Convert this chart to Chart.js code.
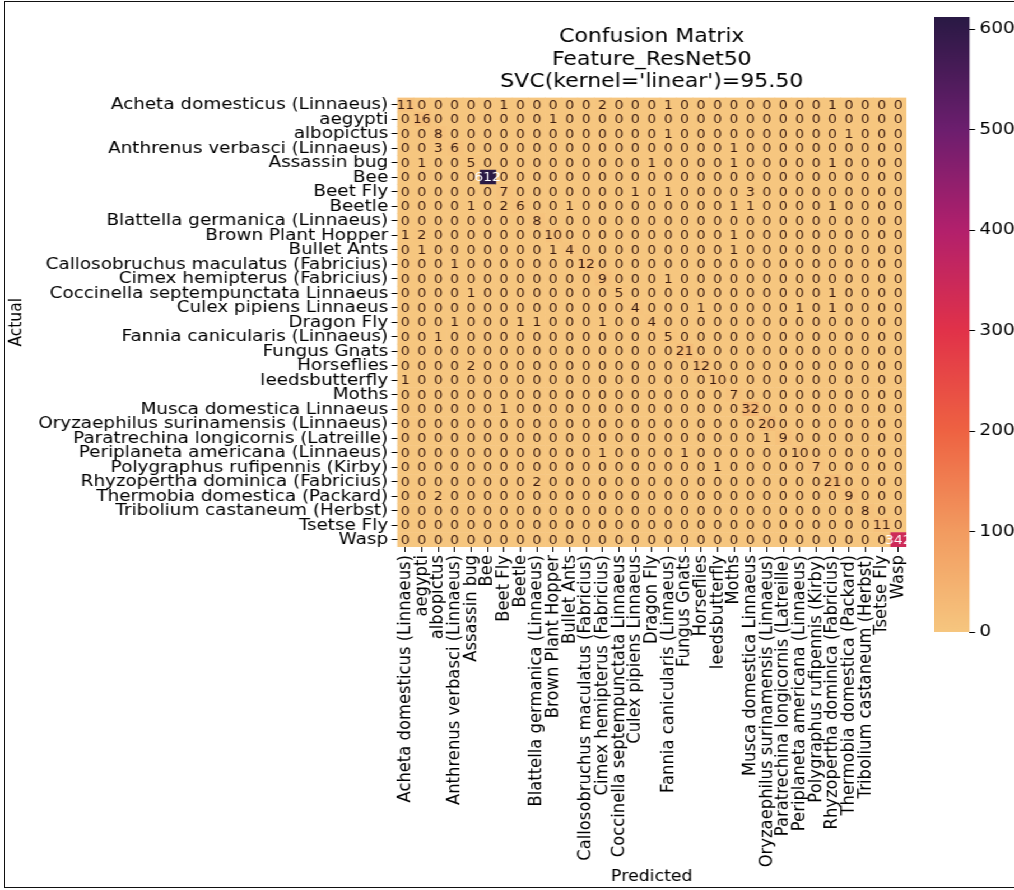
<!DOCTYPE html>
<html>
<head>
<meta charset="utf-8">
<script src="https://cdn.jsdelivr.net/npm/chart.js@4.4.0/dist/chart.umd.min.js"></script>
<style>
html, body { margin: 0; padding: 0; background: #fff; }
body { width: 1014px; height: 890px; overflow: hidden; position: relative; }
#frame { position: absolute; left: 4px; top: 1px; width: 1012px; height: 887px; border: 1.5px solid #111; box-sizing: border-box; pointer-events: none; z-index: 2; }
#fig { position: absolute; left: 0; top: 0; width: 905px; height: 890px; transform: scaleX(1.1204); transform-origin: 0 0; }
#heat { position: absolute; left: 0; top: 0; width: 905px; height: 890px; }
#cbar { position: absolute; left: 834px; top: 0; width: 71px; height: 650px; }
</style>
</head>
<body>
<div id="frame"></div>
<div id="fig">
  <div id="heat"><canvas id="heatCanvas"></canvas></div>
  <div id="cbar"><canvas id="cbCanvas"></canvas></div>
</div>
<script>
Chart.defaults.font.family = '"DejaVu Sans", sans-serif';
Chart.defaults.color = '#000';

// class names (rows = actual, columns = predicted)
const classes = [
  'Acheta domesticus (Linnaeus)', 'aegypti', 'albopictus', 'Anthrenus verbasci (Linnaeus)',
  'Assassin bug', 'Bee', 'Beet Fly', 'Beetle', 'Blattella germanica (Linnaeus)',
  'Brown Plant Hopper', 'Bullet Ants', 'Callosobruchus maculatus (Fabricius)',
  'Cimex hemipterus (Fabricius)', 'Coccinella septempunctata Linnaeus', 'Culex pipiens Linnaeus',
  'Dragon Fly', 'Fannia canicularis (Linnaeus)', 'Fungus Gnats', 'Horseflies', 'leedsbutterfly',
  'Moths', 'Musca domestica Linnaeus', 'Oryzaephilus surinamensis (Linnaeus)',
  'Paratrechina longicornis (Latreille)', 'Periplaneta americana (Linnaeus)',
  'Polygraphus rufipennis (Kirby)', 'Rhyzopertha dominica (Fabricius)',
  'Thermobia domestica (Packard)', 'Tribolium castaneum (Herbst)', 'Tsetse Fly', 'Wasp'
];

// confusion matrix counts, one row per actual class
const counts = [
  [11,0,0,0,0, 0,1,0,0,0, 0,0,2,0,0, 0,1,0,0,0, 0,0,0,0,0, 0,1,0,0,0, 0],
  [0,16,0,0,0, 0,0,0,0,1, 0,0,0,0,0, 0,0,0,0,0, 0,0,0,0,0, 0,0,0,0,0, 0],
  [0,0,8,0,0, 0,0,0,0,0, 0,0,0,0,0, 0,1,0,0,0, 0,0,0,0,0, 0,0,1,0,0, 0],
  [0,0,3,6,0, 0,0,0,0,0, 0,0,0,0,0, 0,0,0,0,0, 1,0,0,0,0, 0,0,0,0,0, 0],
  [0,1,0,0,5, 0,0,0,0,0, 0,0,0,0,0, 1,0,0,0,0, 1,0,0,0,0, 0,1,0,0,0, 0],
  [0,0,0,0,0, 612,0,0,0,0, 0,0,0,0,0, 0,0,0,0,0, 0,0,0,0,0, 0,0,0,0,0, 0],
  [0,0,0,0,0, 0,7,0,0,0, 0,0,0,0,1, 0,1,0,0,0, 0,3,0,0,0, 0,0,0,0,0, 0],
  [0,0,0,0,1, 0,2,6,0,0, 1,0,0,0,0, 0,0,0,0,0, 1,1,0,0,0, 0,1,0,0,0, 0],
  [0,0,0,0,0, 0,0,0,8,0, 0,0,0,0,0, 0,0,0,0,0, 0,0,0,0,0, 0,0,0,0,0, 0],
  [1,2,0,0,0, 0,0,0,0,10, 0,0,0,0,0, 0,0,0,0,0, 1,0,0,0,0, 0,0,0,0,0, 0],
  [0,1,0,0,0, 0,0,0,0,1, 4,0,0,0,0, 0,0,0,0,0, 1,0,0,0,0, 0,0,0,0,0, 0],
  [0,0,0,1,0, 0,0,0,0,0, 0,12,0,0,0, 0,0,0,0,0, 0,0,0,0,0, 0,0,0,0,0, 0],
  [0,0,0,0,0, 0,0,0,0,0, 0,0,9,0,0, 0,1,0,0,0, 0,0,0,0,0, 0,0,0,0,0, 0],
  [0,0,0,0,1, 0,0,0,0,0, 0,0,0,5,0, 0,0,0,0,0, 0,0,0,0,0, 0,1,0,0,0, 0],
  [0,0,0,0,0, 0,0,0,0,0, 0,0,0,0,4, 0,0,0,1,0, 0,0,0,0,1, 0,1,0,0,0, 0],
  [0,0,0,1,0, 0,0,1,1,0, 0,0,1,0,0, 4,0,0,0,0, 0,0,0,0,0, 0,0,0,0,0, 0],
  [0,0,1,0,0, 0,0,0,0,0, 0,0,0,0,0, 0,5,0,0,0, 0,0,0,0,0, 0,0,0,0,0, 0],
  [0,0,0,0,0, 0,0,0,0,0, 0,0,0,0,0, 0,0,21,0,0, 0,0,0,0,0, 0,0,0,0,0, 0],
  [0,0,0,0,2, 0,0,0,0,0, 0,0,0,0,0, 0,0,0,12,0, 0,0,0,0,0, 0,0,0,0,0, 0],
  [1,0,0,0,0, 0,0,0,0,0, 0,0,0,0,0, 0,0,0,0,10, 0,0,0,0,0, 0,0,0,0,0, 0],
  [0,0,0,0,0, 0,0,0,0,0, 0,0,0,0,0, 0,0,0,0,0, 7,0,0,0,0, 0,0,0,0,0, 0],
  [0,0,0,0,0, 0,1,0,0,0, 0,0,0,0,0, 0,0,0,0,0, 0,32,0,0,0, 0,0,0,0,0, 0],
  [0,0,0,0,0, 0,0,0,0,0, 0,0,0,0,0, 0,0,0,0,0, 0,0,20,0,0, 0,0,0,0,0, 0],
  [0,0,0,0,0, 0,0,0,0,0, 0,0,0,0,0, 0,0,0,0,0, 0,0,1,9,0, 0,0,0,0,0, 0],
  [0,0,0,0,0, 0,0,0,0,0, 0,0,1,0,0, 0,0,1,0,0, 0,0,0,0,10, 0,0,0,0,0, 0],
  [0,0,0,0,0, 0,0,0,0,0, 0,0,0,0,0, 0,0,0,0,1, 0,0,0,0,0, 7,0,0,0,0, 0],
  [0,0,0,0,0, 0,0,0,2,0, 0,0,0,0,0, 0,0,0,0,0, 0,0,0,0,0, 0,21,0,0,0, 0],
  [0,0,2,0,0, 0,0,0,0,0, 0,0,0,0,0, 0,0,0,0,0, 0,0,0,0,0, 0,0,9,0,0, 0],
  [0,0,0,0,0, 0,0,0,0,0, 0,0,0,0,0, 0,0,0,0,0, 0,0,0,0,0, 0,0,0,8,0, 0],
  [0,0,0,0,0, 0,0,0,0,0, 0,0,0,0,0, 0,0,0,0,0, 0,0,0,0,0, 0,0,0,0,11, 0],
  [0,0,0,0,0, 0,0,0,0,0, 0,0,0,0,0, 0,0,0,0,0, 0,0,0,0,0, 0,0,0,0,0, 342]
];

const cbTicks = [0, 100, 200, 300, 400, 500, 600];
const titleLines = ['Confusion Matrix', 'Feature_ResNet50', "SVC(kernel='linear')=95.50"];

const vmax = Math.max(...counts.flat());

// colormap stops: light orange -> red -> dark purple
const cmapStops = [
  [0.000, [246, 198, 127]],
  [0.163, [242, 155, 96]],
  [0.327, [238, 98, 66]],
  [0.490, [225, 50, 73]],
  [0.654, [178, 32, 108]],
  [0.817, [108, 30, 110]],
  [1.000, [41, 25, 68]]
];

function cellColor(v) {
  const f = Math.min(1, Math.max(0, v / vmax));
  for (let k = 1; k < cmapStops.length; k++) {
    const [f1, c1] = cmapStops[k];
    const [f0, c0] = cmapStops[k - 1];
    if (f <= f1) {
      const t = (f - f0) / (f1 - f0);
      const c = c0.map((a, n) => Math.round(a + (c1[n] - a) * t));
      return 'rgb(' + c.join(',') + ')';
    }
  }
  return 'rgb(' + cmapStops[cmapStops.length - 1][1].join(',') + ')';
}

const SZ = 16.4;

// write the count in each cell
const annotate = {
  id: 'annotate',
  afterDatasetsDraw(chart) {
    const ctx = chart.ctx;
    ctx.save();
    ctx.font = '12.5px "DejaVu Sans"';
    ctx.textAlign = 'center';
    ctx.textBaseline = 'middle';
    chart.data.datasets.forEach((ds, j) => {
      chart.getDatasetMeta(j).data.forEach((bar, i) => {
        const v = counts[i][j];
        ctx.fillStyle = v / vmax > 0.35 ? '#ffffff' : '#3a1a10';
        ctx.fillText(String(v), (bar.x + bar.base) / 2, bar.y + 0.5);
      });
    });
    ctx.restore();
  }
};

new Chart(document.getElementById('heatCanvas'), {
  type: 'bar',
  data: {
    labels: classes,
    datasets: classes.map((name, j) => ({
      label: name,
      data: classes.map(() => [j, j + 1]),
      backgroundColor: counts.map(row => cellColor(row[j])),
      grouped: false,
      barPercentage: 1,
      categoryPercentage: 1,
      borderWidth: 0
    }))
  },
  options: {
    indexAxis: 'y',
    responsive: true,
    maintainAspectRatio: false,
    animation: false,
    events: [],
    layout: { padding: { left: 0, right: 96, top: 0, bottom: 0 } },
    plugins: {
      legend: { display: false },
      tooltip: { enabled: false },
      title: {
        display: true,
        fullSize: false,
        text: titleLines,
        color: '#000',
        font: { size: 19.6, weight: 'normal', lineHeight: 1.15 },
        padding: { top: 26, bottom: 4 }
      }
    },
    scales: {
      x: {
        type: 'linear',
        min: 0,
        max: classes.length,
        afterBuildTicks: s => { s.ticks = classes.map((c, i) => ({ value: i + 0.5 })); },
        afterFit: s => { s.height = 343; },
        ticks: {
          autoSkip: false, minRotation: 90, maxRotation: 90, padding: 3,
          font: { size: SZ }, color: '#000',
          callback: (v, i) => classes[i]
        },
        grid: { drawOnChartArea: false, tickLength: 5, tickColor: '#000' },
        border: { display: false },
        title: { display: true, text: 'Predicted', color: '#000', font: { size: 15.5 }, padding: { top: 0, bottom: 4 } }
      },
      y: {
        type: 'category',
        afterFit: s => { s.width = 354.5; },
        ticks: { autoSkip: false, padding: 3, font: { size: SZ }, color: '#000' },
        grid: { offset: false, drawOnChartArea: false, tickLength: 5, tickColor: '#000' },
        border: { display: false },
        title: { display: true, text: 'Actual', color: '#000', font: { size: 15.5 }, padding: { top: 6, bottom: 0 } }
      }
    }
  },
  plugins: [annotate]
});

// colour bar
new Chart(document.getElementById('cbCanvas'), {
  type: 'scatter',
  data: { datasets: [] },
  options: {
    responsive: true,
    maintainAspectRatio: false,
    animation: false,
    events: [],
    layout: { padding: { left: 0, right: 0, top: 17, bottom: 18 } },
    plugins: { legend: { display: false }, tooltip: { enabled: false } },
    scales: {
      x: { display: false },
      y: {
        position: 'right',
        min: 0,
        max: vmax,
        afterBuildTicks: s => { s.ticks = cbTicks.map(v => ({ value: v })); },
        afterFit: s => { s.width = 39.7; },
        ticks: { font: { size: SZ }, color: '#000', padding: 4 },
        grid: { drawOnChartArea: false, tickLength: 5, tickColor: '#000' },
        border: { display: false }
      }
    }
  },
  plugins: [{
    id: 'gradient',
    beforeDatasetsDraw(chart) {
      const { ctx, chartArea: a, scales: { y } } = chart;
      const g = ctx.createLinearGradient(0, y.getPixelForValue(0), 0, y.getPixelForValue(vmax));
      cmapStops.forEach(([f, c]) => g.addColorStop(f, 'rgb(' + c.join(',') + ')'));
      ctx.save();
      ctx.fillStyle = g;
      ctx.fillRect(a.left, a.top, a.right - a.left, a.bottom - a.top);
      ctx.restore();
    }
  }]
});
</script>
</body>
</html>
